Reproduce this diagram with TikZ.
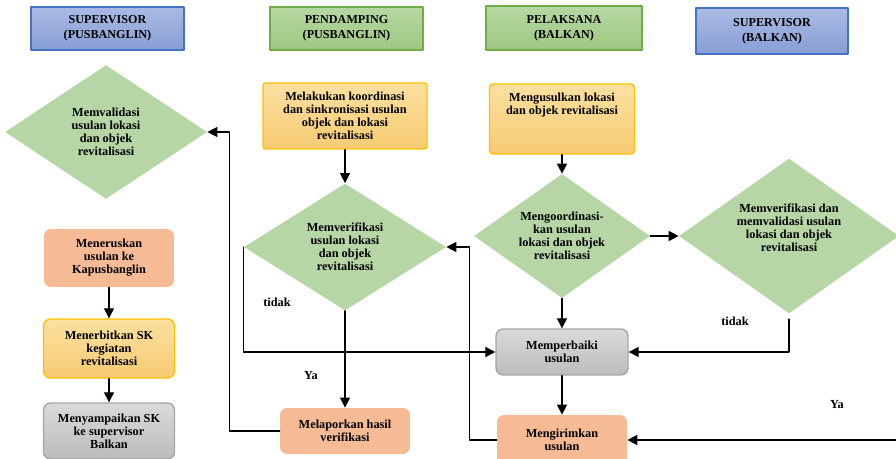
\documentclass[tikz,border=0pt]{standalone}
\usepackage{fontspec}
\setmainfont{Liberation Serif}
\usetikzlibrary{shapes.geometric,arrows.meta}
\definecolor{birugaris}{RGB}{68,114,196}
\definecolor{biruatas}{RGB}{170,186,228}
\definecolor{birubawah}{RGB}{136,158,212}
\definecolor{hijaugaris}{RGB}{112,173,71}
\definecolor{hijauatas}{RGB}{182,215,162}
\definecolor{hijaubawah}{RGB}{158,200,130}
\definecolor{belahisi}{RGB}{182,214,165}
\definecolor{jinggagaris}{RGB}{255,192,0}
\definecolor{jinggaatas}{RGB}{251,224,160}
\definecolor{jinggabawah}{RGB}{247,203,115}
\definecolor{salemisi}{RGB}{246,187,148}
\definecolor{abugaris}{RGB}{166,166,166}
\definecolor{abuatas}{RGB}{218,218,218}
\definecolor{abubawah}{RGB}{188,188,188}
\begin{document}
\begin{tikzpicture}[x=0.02cm,y=-0.02cm,line cap=round,line join=round,font=\fontsize{7}{7.4}\selectfont\bfseries]
	\tikzset{
		kepala/.style={draw=#1garis, line width=0.9pt, top color=#1atas, bottom color=#1bawah, align=center, inner sep=0pt,
			font=\fontsize{6.9}{8.6}\selectfont\bfseries, minimum width=3.06cm, minimum height=0.86cm},
		kuning/.style={draw=jinggagaris, line width=0.8pt, top color=jinggaatas, bottom color=jinggabawah, rounded corners=4pt, align=center, inner sep=0pt},
		salem/.style={fill=salemisi, rounded corners=4pt, align=center, inner sep=0pt},
		abu/.style={draw=abugaris, line width=0.8pt, top color=abuatas, bottom color=abubawah, rounded corners=4pt, align=center, inner sep=0pt},
		belah/.style={diamond, aspect=1.5, fill=belahisi, inner sep=0pt, align=center},
		panah/.style={-{Triangle[length=5.7pt,width=5.7pt]}, line width=0.75pt},
		ket/.style={inner sep=0pt}
	}
	\useasboundingbox (0,0) rectangle (896,459);
	% kepala kolom
	\node[kepala=biru] (h1) at (107.5,28.5) {SUPERVISOR\\(PUSBANGLIN)};
	\node[kepala=hijau] (h2) at (346.5,28.5) {PENDAMPING\\(PUSBANGLIN)};
	\node[kepala=hijau, minimum width=3.12cm, minimum height=0.88cm] (h3) at (564,28) {PELAKSANA\\(BALKAN)};
	\node[kepala=biru, minimum width=3.04cm, minimum height=0.92cm] (h4) at (772,31) {SUPERVISOR\\(BALKAN)};
	% supervisor pusbanglin
	\node[belah, minimum width=4.04cm, minimum height=2.68cm] (d1) at (106,132) {Memvalidasi\\usulan lokasi\\dan objek\\revitalisasi};
	\node[salem, minimum width=2.6cm, minimum height=1.16cm] (meneruskan) at (109,258) {Meneruskan\\usulan ke\\Kapusbanglin};
	\node[kuning, minimum width=2.62cm, minimum height=1.18cm] (menerbitkan) at (109,348.5) {Menerbitkan SK\\kegiatan\\revitalisasi};
	\node[abu, minimum width=2.62cm, minimum height=1.12cm] (menyampaikan) at (109,431) {Menyampaikan SK\\ke supervisor\\Balkan};
	% pendamping
	\node[kuning, rounded corners=1.5pt, minimum width=3.28cm, minimum height=1.32cm] (melakukan) at (345,116) {Melakukan koordinasi\\dan sinkronisasi usulan\\objek dan lokasi\\revitalisasi};
	\node[belah, minimum width=4.04cm, minimum height=2.54cm] (d2) at (345,247) {Memverifikasi\\usulan lokasi\\dan objek\\revitalisasi};
	\node[salem, minimum width=2.6cm, minimum height=0.92cm] (melaporkan) at (345,431) {Melaporkan hasil\\verifikasi};
	% pelaksana
	\node[kuning, rounded corners=2pt, minimum width=2.9cm, minimum height=1.4cm] (mengusulkan) at (562,119) {Mengusulkan lokasi\\dan objek revitalisasi\\\strut\\\strut};
	\node[belah, minimum width=3.52cm, minimum height=2.48cm] (d3) at (562,236) {Mengoordinasi-\\kan usulan\\lokasi dan objek\\revitalisasi};
	\node[abu, minimum width=2.64cm, minimum height=0.92cm] (memperbaiki) at (562,352) {Memperbaiki\\usulan};
	\node[salem, minimum width=2.6cm, minimum height=1.0cm] (mengirimkan) at (562,440) {Mengirimkan\\usulan};
	% supervisor balkan
	\node[belah, minimum width=4.4cm, minimum height=3.1cm] (d4) at (789,236) {Memverifikasi dan\\memvalidasi usulan\\lokasi dan objek\\revitalisasi\\\strut};
	% keterangan
	\node[ket] (tidak1) at (277,302) {tidak};
	\node[ket] (tidak2) at (735,321) {tidak};
	\node[ket] (ya1) at (311,376) {Ya};
	\node[ket] (ya2) at (837,405) {Ya};
	% alur
	\draw[panah] (meneruskan) -- (menerbitkan);
	\draw[panah] (menerbitkan) -- (menyampaikan);
	\draw[panah] (melakukan) -- (d2);
	\draw[panah] (d2) -- (melaporkan);
	\draw[panah] (melaporkan.west) -- ++(-50,0) |- (d1.east);
	\draw[panah] (d2.west) |- (memperbaiki.west);
	\draw[panah] (mengusulkan) -- (d3);
	\draw[panah] (d3) -- (d4);
	\draw[panah] (d3) -- (memperbaiki);
	\draw[panah] (memperbaiki) -- (mengirimkan);
	\draw[panah] (mengirimkan.west) -- ++(-27,0) |- (d2.east);
	\draw[panah] ([yshift=-3pt]d4.south) |- (memperbaiki.east);
	\draw[panah] (d4.east) |- (mengirimkan.east);
\end{tikzpicture}
\end{document}
